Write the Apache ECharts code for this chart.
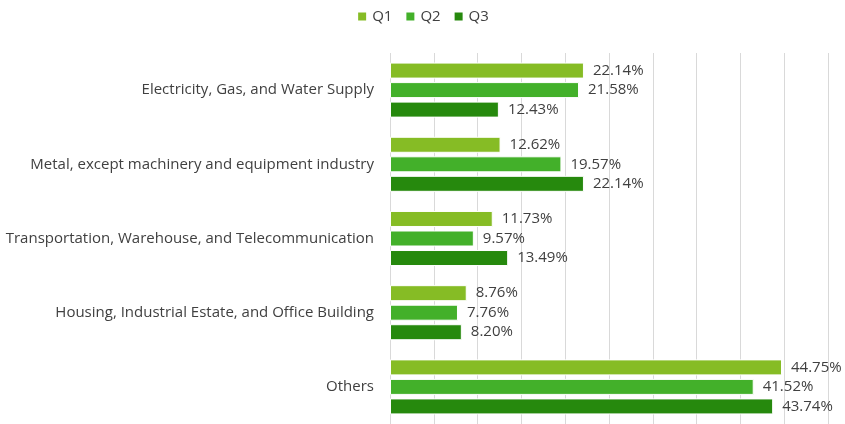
<!DOCTYPE html>
<html>
<head>
<meta charset="utf-8">
<script src="https://cdn.jsdelivr.net/npm/echarts@6/dist/echarts.min.js"></script>
<style>
  html, body { margin: 0; padding: 0; background: #fff; }
  #chart { width: 845px; height: 424px; }
</style>
</head>
<body>
<div id="chart"></div>
<script>
const categories = [
  'Electricity, Gas, and Water Supply',
  'Metal, except machinery and equipment industry',
  'Transportation, Warehouse, and Telecommunication',
  'Housing, Industrial Estate, and Office Building',
  'Others'
]
const q1 = [22.14, 12.62, 11.73, 8.76, 44.75]
const q2 = [21.58, 19.57, 9.57, 7.76, 41.52]
const q3 = [12.43, 22.14, 13.49, 8.20, 43.74]

const fuente = "'Open Sans', sans-serif"

function serie(nombre, datos, color) {
  return {
    name: nombre,
    type: 'bar',
    data: datos,
    barWidth: 16,
    barGap: '22%',
    itemStyle: { color: color, borderColor: '#ffffff', borderWidth: 1 },
    label: {
      show: true,
      position: 'right',
      distance: 9,
      formatter: p => p.value.toFixed(2) + '%',
      color: '#404040',
      fontSize: 15,
      fontFamily: fuente
    }
  }
}

const grafico = echarts.init(document.getElementById('chart'))
grafico.setOption({
  animation: false,
  textStyle: { fontFamily: fuente },
  legend: {
    top: 4,
    left: 'center',
    itemWidth: 10,
    itemHeight: 10,
    itemGap: 12,
    icon: 'rect',
    textStyle: { color: '#404040', fontSize: 15, fontFamily: fuente },
    data: ['Q1', 'Q2', 'Q3']
  },
  grid: { left: 390, right: 17, top: 53, bottom: -2, containLabel: false },
  xAxis: {
    type: 'value',
    min: 0,
    max: 50,
    interval: 5,
    axisLabel: { show: false },
    axisLine: { show: false },
    axisTick: { show: false },
    splitLine: { lineStyle: { color: '#d9d9d9', width: 1 } }
  },
  yAxis: {
    type: 'category',
    inverse: true,
    data: categories,
    axisLine: { show: false },
    axisTick: { show: false },
    axisLabel: { color: '#404040', fontSize: 15, fontFamily: fuente, margin: 16 }
  },
  series: [
    serie('Q1', q1, '#86bc25'),
    serie('Q2', q2, '#43b02a'),
    serie('Q3', q3, '#26890d')
  ]
})
</script>
</body>
</html>
